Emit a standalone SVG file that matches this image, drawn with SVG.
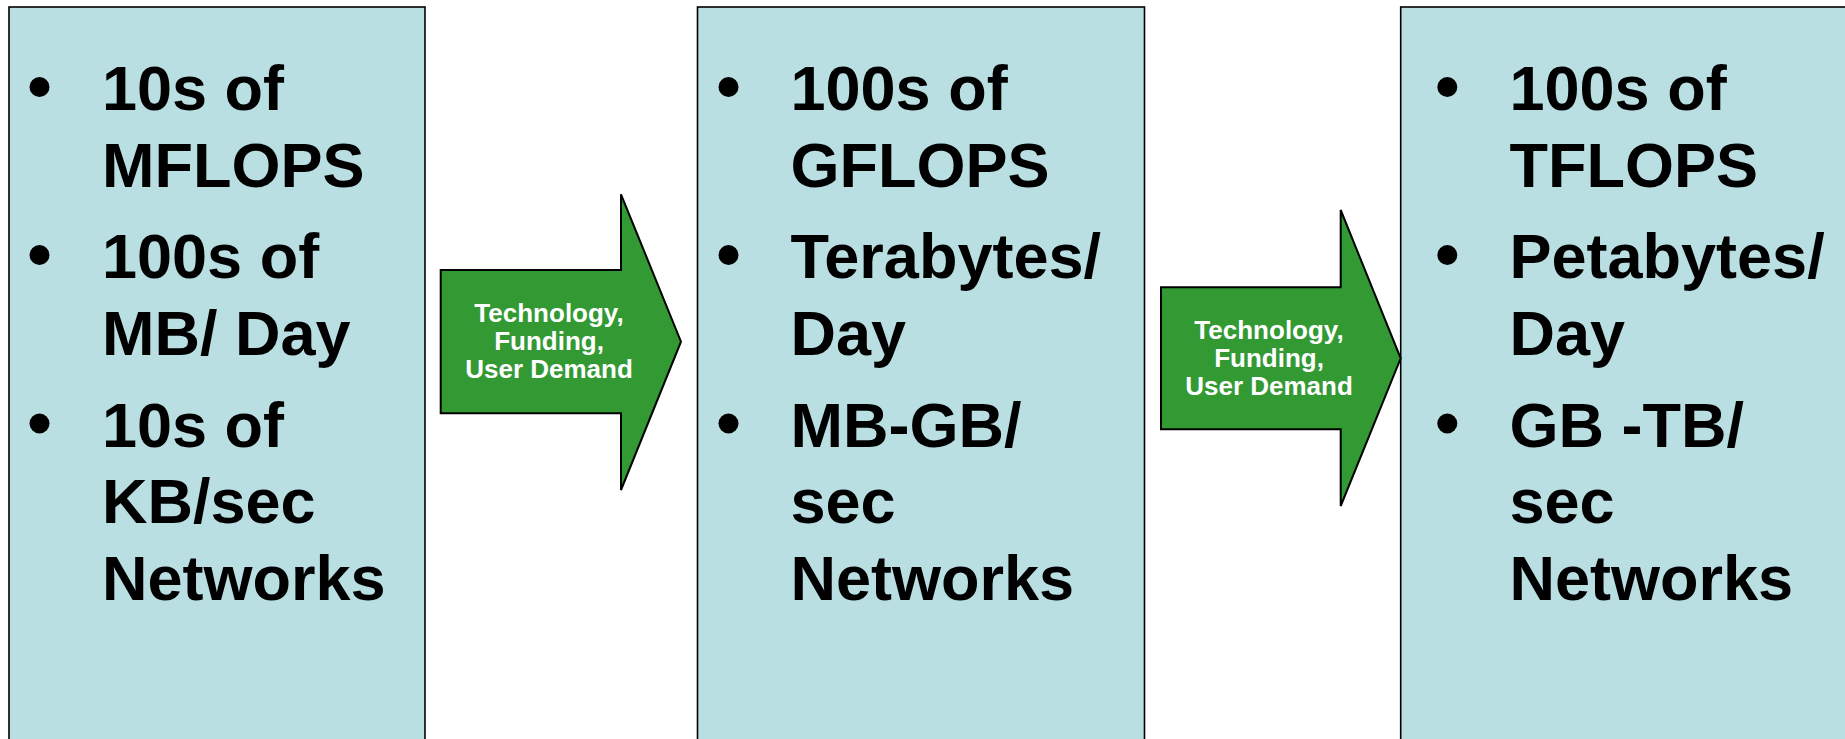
<svg xmlns="http://www.w3.org/2000/svg" width="1845" height="739" viewBox="0 0 1845 739">
<style>
.box{fill:#badfe3;stroke:#000;stroke-width:1.6}
.t{font-family:"Liberation Sans",Arial,Helvetica,sans-serif;font-weight:bold;font-size:63px;fill:#000}
.b{fill:#000}
.arrow{fill:#339933;stroke:#000;stroke-width:2;stroke-linejoin:miter}
.at{font-family:"Liberation Sans",Arial,Helvetica,sans-serif;font-weight:bold;font-size:26px;fill:#fff;text-anchor:middle}
</style>
<rect x="0" y="0" width="1845" height="739" fill="#fff"/>
<g id="stage1">
<rect class="box" x="9" y="7" width="416" height="745"/>
<circle class="b" cx="39.5" cy="87" r="10"/>
<circle class="b" cx="39.5" cy="255" r="10"/>
<circle class="b" cx="39.5" cy="423.5" r="10"/>
<text class="t" x="102" y="110">10s of</text>
<text class="t" x="102" y="186.7">MFLOPS</text>
<text class="t" x="102" y="278.3">100s of</text>
<text class="t" x="102" y="355">MB/ Day</text>
<text class="t" x="102" y="446.6">10s of</text>
<text class="t" x="102" y="523.3">KB/sec</text>
<text class="t" x="102" y="600">Networks</text>
</g>
<g id="stage2">
<rect class="box" x="697.5" y="7" width="447" height="745"/>
<circle class="b" cx="728.5" cy="87" r="10"/>
<circle class="b" cx="728.5" cy="255" r="10"/>
<circle class="b" cx="728.5" cy="423.5" r="10"/>
<text class="t" x="790.5" y="110">100s of</text>
<text class="t" x="790.5" y="186.7">GFLOPS</text>
<text class="t" x="790.5" y="278.3">Terabytes/</text>
<text class="t" x="790.5" y="355">Day</text>
<text class="t" x="790.5" y="446.6">MB-GB/</text>
<text class="t" x="790.5" y="523.3">sec</text>
<text class="t" x="790.5" y="600">Networks</text>
</g>
<g id="stage3">
<rect class="box" x="1400.7" y="7" width="460" height="745"/>
<circle class="b" cx="1447.3" cy="87" r="10"/>
<circle class="b" cx="1447.3" cy="255" r="10"/>
<circle class="b" cx="1447.3" cy="423.5" r="10"/>
<text class="t" x="1509.5" y="110">100s of</text>
<text class="t" x="1509.5" y="186.7">TFLOPS</text>
<text class="t" x="1509.5" y="278.3">Petabytes/</text>
<text class="t" x="1509.5" y="355">Day</text>
<text class="t" x="1509.5" y="446.6">GB -TB/</text>
<text class="t" x="1509.5" y="523.3">sec</text>
<text class="t" x="1509.5" y="600">Networks</text>
</g>
<g id="connectors">
<g id="arrow1">
<polygon class="arrow" points="440.7,270 621,270 621,194.3 681,341.7 621,490 621,413.3 440.7,413.3"/>
<text class="at" x="549" y="322">Technology,</text>
<text class="at" x="549" y="350">Funding,</text>
<text class="at" x="549" y="378">User Demand</text>
</g>
<g id="arrow2">
<polygon class="arrow" points="1161,287.3 1340.7,287.3 1340.7,210 1400.7,358.3 1340.7,506 1340.7,429.3 1161,429.3"/>
<text class="at" x="1269" y="338.5">Technology,</text>
<text class="at" x="1269" y="366.5">Funding,</text>
<text class="at" x="1269" y="394.5">User Demand</text>
</g>
</g>
</svg>
